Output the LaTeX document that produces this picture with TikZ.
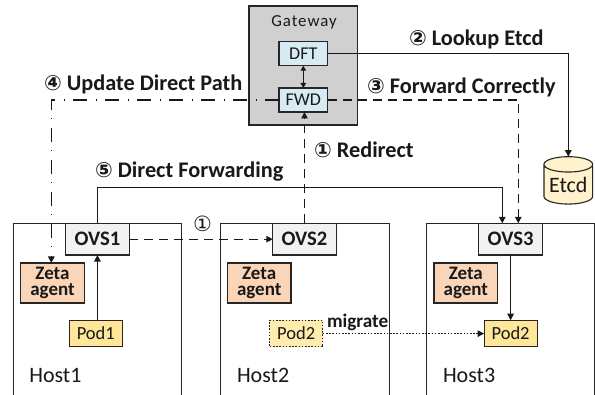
\documentclass[tikz,border=0pt]{standalone}
\usepackage{fontspec}
\setmainfont{Carlito}
\newfontfamily\symfont{DejaVu Sans}
\newfontfamily\gwfont[LetterSpace=6]{Carlito}
\usetikzlibrary{arrows.meta,shapes.geometric}
\definecolor{gwgray}{HTML}{D0D0D0}
\definecolor{swblue}{HTML}{D6EBF2}
\definecolor{ovsgray}{HTML}{F2F2F2}
\definecolor{zetaor}{HTML}{FBD5B8}
\definecolor{podyel}{HTML}{FFE699}
\definecolor{etcdyel}{HTML}{FFF2CC}
\newcommand{\cn}[1]{{\symfont\fontsize{21}{20}\selectfont #1}}
\tikzset{
  x=1pt,y=-1pt,
  every node/.style={inner sep=0pt,outer sep=0pt,text=black!90},
  base/.style={draw=black!85,line width=1.1pt},
  hostbox/.style={base,minimum width=168.4pt,minimum height=190pt,anchor=north west},
  gatebox/.style={base,fill=gwgray,minimum width=108.7pt,minimum height=119pt,anchor=north west},
  swbox/.style={base,fill=swblue,minimum width=48.7pt,minimum height=24pt,font=\fontsize{18}{18}\selectfont},
  ovsbox/.style={base,fill=ovsgray,minimum width=63.4pt,minimum height=31.7pt,font=\bfseries\fontsize{20.6}{20}\selectfont},
  zetabox/.style={base,fill=zetaor,minimum width=63.6pt,minimum height=40pt,align=center,font=\bfseries\fontsize{19}{16}\selectfont},
  podbox/.style={base,fill=podyel,minimum width=53pt,minimum height=26.7pt,font=\fontsize{18.5}{18}\selectfont},
  hostlabel/.style={font=\fontsize{22}{22}\selectfont,anchor=base west},
  steplabel/.style={font=\bfseries\fontsize{22.3}{22}\selectfont,anchor=base west},
  link/.style={draw=black!90,line width=1.1pt},
  tip/.style={-{Triangle[length=6.5pt,width=6.5pt]}},
  dashlink/.style={link,tip,dash pattern=on 9pt off 6pt},
  dashdot/.style={link,tip,dash pattern=on 14pt off 8pt on 1pt off 9pt},
  dotlink/.style={link,tip,dash pattern=on 1.6pt off 1.6pt},
}
\begin{document}
\begin{tikzpicture}
\clip (0,0) rectangle (595,395);
\fill[white] (0,0) rectangle (595,395);
% hosts
\node[hostbox] (host1) at (13.3,223.3) {};
\node[hostbox] (host2) at (220.7,223.3) {};
\node[hostbox] (host3) at (426.4,223.3) {};
% gateway
\node[gatebox] (gw) at (249,6) {};
\node[anchor=base,font=\gwfont\fontsize{16.8}{17}\selectfont] (gwl) at (304,27) {Gateway};
\node[swbox] (dft) at (303.3,53.7) {DFT};
\node[swbox] (fwd) at (303.3,100) {FWD};
% ovs
\node[ovsbox] (ovs1) at (97.4,239.2) {OVS1};
\node[ovsbox] (ovs2) at (304.5,239.2) {OVS2};
\node[ovsbox] (ovs3) at (510.6,239.2) {OVS3};
\coordinate (ovs3a) at (502.3,223.3);
\coordinate (ovs3b) at (518.3,223.3);
% zeta
\node[zetabox] (z1) at (52.5,283) {Zeta\\agent};
\node[zetabox] (z2) at (259.2,283) {Zeta\\agent};
\node[zetabox] (z3) at (465.8,283) {Zeta\\agent};
% pods
\node[podbox] (pod1) at (95.8,333.6) {Pod1};
\node[podbox,fill=podyel!80!white,dash pattern=on 1.6pt off 1.6pt] (pod2o) at (296.2,333.6) {Pod2};
\node[podbox] (pod2) at (510.6,333.6) {Pod2};
% etcd
\node[base,cylinder,shape border rotate=90,aspect=0.4,cylinder uses custom fill,cylinder body fill=etcdyel,cylinder end fill=etcdyel,minimum width=48.7pt,minimum height=47.4pt,font=\fontsize{22}{22}\selectfont] (etcd) at (568.3,184.5) {Etcd};
% connectors
\draw[link,tip] (dft.east) -| (etcd.north);
\draw[link,{Triangle[length=5pt,width=5.5pt]}-{Triangle[length=5pt,width=5.5pt]}] (dft.south) -- (fwd.north);
\draw[dashlink] (fwd.east) -| (ovs3b);
\draw[dashdot] (fwd.west) -| (z1.north -| 51.3,0);
\draw[dashlink] (ovs2.north) -- (ovs2.north |- fwd.south);
\draw[dashlink] (ovs1.east) -- (ovs2.west);
\draw[link,tip] (ovs1.north) |- (187.3,187.3) -| (ovs3a);
\draw[link,tip] (pod1.north -| ovs1.south) -- (ovs1.south);
\draw[link,tip] (ovs3.south) -- (pod2.north);
\draw[dotlink] (pod2o.east) -- (pod2.west);
% labels
\node[steplabel] (l2) at (409,46) {\cn{②} Lookup Etcd};
\node[steplabel] (l3) at (367,94) {\cn{③} Forward Correctly};
\node[steplabel] (l4) at (44,91) {\cn{④} Update Direct Path};
\node[steplabel] (l5) at (95,177.7) {\cn{⑤} Direct Forwarding};
\node[steplabel] (l1) at (314,158) {\cn{①} Redirect};
\node[anchor=base west] (l1b) at (193,232) {\cn{①}};
\node[font=\bfseries\fontsize{19.2}{19}\selectfont,anchor=base west] (mig) at (327,327.5) {migrate};
\node[hostlabel] (h1) at (29.3,382.7) {Host1};
\node[hostlabel] (h2) at (237,382.7) {Host2};
\node[hostlabel] (h3) at (443,382.7) {Host3};
\end{tikzpicture}
\end{document}
